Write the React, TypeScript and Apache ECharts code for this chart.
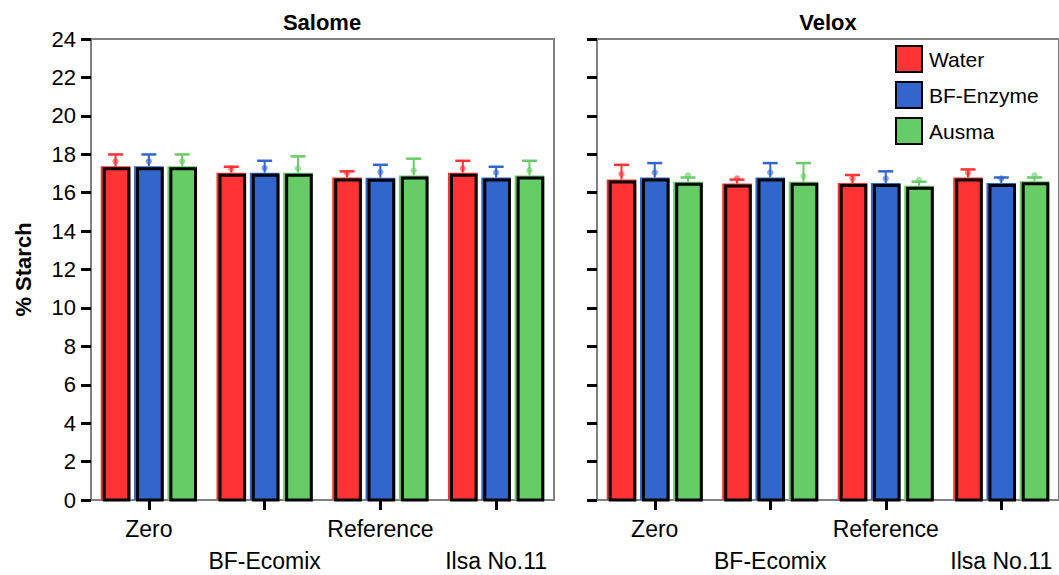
import React, { useEffect, useRef } from "react";
import * as echarts from "echarts";

// Categories (fertiliser treatments) and seed treatments
const categories = ["Zero", "BF-Ecomix", "Reference", "Ilsa No.11"];
const treatments = ["Water", "BF-Enzyme", "Ausma"];
const colors = ["#ff3333", "#3366cc", "#66cc66"];
const yTicks = { min: 0, max: 24, interval: 2 };

// Salome: bar value, mean marker, upper whisker
const salomeWaterBar = [17.37, 17.04, 16.79, 17.04];
const salomeWaterDot = [17.63, 17.26, 17.02, 17.26];
const salomeWaterUpper = [17.99, 17.35, 17.11, 17.66];
const salomeEnzymeBar = [17.37, 17.04, 16.78, 16.79];
const salomeEnzymeDot = [17.63, 17.28, 17.07, 17.05];
const salomeEnzymeUpper = [17.99, 17.66, 17.45, 17.35];
const salomeAusmaBar = [17.37, 17.04, 16.9, 16.9];
const salomeAusmaDot = [17.63, 17.26, 17.16, 17.16];
const salomeAusmaUpper = [17.99, 17.89, 17.77, 17.66];

// Velox: bar value, mean marker, upper whisker
const veloxWaterBar = [16.69, 16.48, 16.5, 16.79];
const veloxWaterDot = [16.97, 16.74, 16.74, 17.04];
const veloxWaterUpper = [17.45, 16.68, 16.92, 17.21];
const veloxEnzymeBar = [16.79, 16.79, 16.5, 16.5];
const veloxEnzymeDot = [17.05, 17.05, 16.74, 16.74];
const veloxEnzymeUpper = [17.54, 17.54, 17.11, 16.79];
const veloxAusmaBar = [16.57, 16.57, 16.36, 16.59];
const veloxAusmaDot = [16.9, 16.85, 16.66, 16.9];
const veloxAusmaUpper = [16.79, 17.54, 16.57, 16.79];

const panels = [
  {
    title: "Salome",
    bars: [salomeWaterBar, salomeEnzymeBar, salomeAusmaBar],
    dots: [salomeWaterDot, salomeEnzymeDot, salomeAusmaDot],
    uppers: [salomeWaterUpper, salomeEnzymeUpper, salomeAusmaUpper],
  },
  {
    title: "Velox",
    bars: [veloxWaterBar, veloxEnzymeBar, veloxAusmaBar],
    dots: [veloxWaterDot, veloxEnzymeDot, veloxAusmaDot],
    uppers: [veloxWaterUpper, veloxEnzymeUpper, veloxAusmaUpper],
  },
];

const FONT = "'Liberation Sans', Arial, sans-serif";

function makeRenderItem(k: number, color: string) {
  return (params: any, api: any) => {
    const ci = api.value(0);
    const bar = api.value(1);
    const dot = api.value(2);
    const up = api.value(3);
    const band = api.size([1, 0])[0];
    const base = api.coord([ci, 0]);
    const top = api.coord([ci, bar]);
    const pitch = band * 0.288;
    const width = band * 0.256;
    const cx = base[0] + (k - 1) * pitch;
    const x0 = cx - width / 2;
    const yTop = top[1];
    const yBase = base[1];
    const yDot = api.coord([ci, dot])[1];
    const yUp = api.coord([ci, up])[1];
    return {
      type: "group",
      children: [
        {
          type: "rect",
          shape: { x: x0, y: yTop, width, height: yBase - yTop },
          style: { fill: color },
        },
        {
          type: "rect",
          shape: { x: x0 + 3.5, y: yTop + 2.5, width: width - 5, height: yBase - yTop - 2.5 },
          style: { fill: "none", stroke: "#000", lineWidth: 3 },
        },
        {
          type: "line",
          shape: { x1: cx, y1: yTop, x2: cx, y2: yUp },
          style: { stroke: color, lineWidth: 2 },
        },
        {
          type: "line",
          shape: { x1: cx - 7.5, y1: yUp, x2: cx + 7.5, y2: yUp },
          style: { stroke: color, lineWidth: 2.5 },
        },
        {
          type: "circle",
          shape: { cx, cy: yDot, r: 3.2 },
          style: { fill: color, opacity: 0.6 },
        },
      ],
    };
  };
}

export default function App() {
  const ref = useRef<HTMLDivElement>(null);

  useEffect(() => {
    if (!ref.current) return;
    const chart = echarts.init(ref.current, null, { renderer: "svg" });

    const grids = [
      { left: 91, top: 39, width: 463, height: 461 },
      { left: 597, top: 39, width: 462, height: 461 },
    ].map((g) => ({
      ...g,
      show: true,
      borderColor: "#808080",
      borderWidth: 2,
      backgroundColor: "transparent",
      containLabel: false,
      outerBoundsMode: "none",
    }));

    const xAxes = grids.map((_, gi) => ({
      type: "category",
      gridIndex: gi,
      data: categories,
      boundaryGap: true,
      axisLine: { show: false },
      axisTick: {
        show: true,
        alignWithLabel: true,
        length: 10,
        lineStyle: { color: "#000", width: 3 },
      },
      axisLabel: {
        interval: 0,
        color: "#000",
        fontSize: 23,
        fontFamily: FONT,
        lineHeight: 32,
        margin: 13,
        formatter: (v: string, i: number) => (i % 2 === 1 ? "\n" + v : v),
      },
      splitLine: { show: false },
    }));

    const yAxes = grids.map((_, gi) => ({
      type: "value",
      gridIndex: gi,
      min: yTicks.min,
      max: yTicks.max,
      interval: yTicks.interval,
      axisLine: { show: false },
      axisTick: {
        show: true,
        length: 10,
        lineStyle: { color: "#000", width: 3 },
      },
      axisLabel: {
        show: gi === 0,
        color: "#000",
        fontSize: 22,
        fontFamily: FONT,
        margin: 15,
        padding: [6, 0, 0, 0],
      },
      splitLine: { show: false },
      name: gi === 0 ? "% Starch" : "",
      nameLocation: "middle",
      nameRotate: 90,
      nameGap: 57,
      nameTextStyle: {
        color: "#000",
        fontSize: 22,
        fontWeight: "bold",
        fontFamily: FONT,
      },
    }));

    const series: any[] = [];
    panels.forEach((p, pi) => {
      treatments.forEach((t, k) => {
        series.push({
          type: "custom",
          name: t,
          xAxisIndex: pi,
          yAxisIndex: pi,
          itemStyle: { color: colors[k] },
          encode: { x: 0, y: [1, 2, 3] },
          data: categories.map((_, ci) => [ci, p.bars[k][ci], p.dots[k][ci], p.uppers[k][ci]]),
          renderItem: makeRenderItem(k, colors[k]),
        });
      });
    });

    chart.setOption({
      animation: false,
      backgroundColor: "#fff",
      title: panels.map((p, pi) => ({
        text: p.title,
        left: pi === 0 ? 322 : 828,
        top: 11,
        textAlign: "center",
        padding: 0,
        textStyle: { color: "#000", fontSize: 22, fontWeight: "bold", fontFamily: FONT },
      })),
      legend: {
        data: treatments,
        orient: "vertical",
        left: 895,
        top: 45,
        padding: 0,
        itemWidth: 26,
        itemHeight: 26,
        itemGap: 8,
        icon: "rect",
        itemStyle: { borderColor: "#000", borderWidth: 2 },
        textStyle: { color: "#000", fontSize: 21, fontFamily: FONT, padding: [0, 0, 0, 2] },
      },
      grid: grids,
      xAxis: xAxes,
      yAxis: yAxes,
      series,
    });

    return () => chart.dispose();
  }, []);

  return (
    <div
      ref={ref}
      style={{ position: "absolute", left: 0, top: 0, width: 1059, height: 575 }}
    />
  );
}
